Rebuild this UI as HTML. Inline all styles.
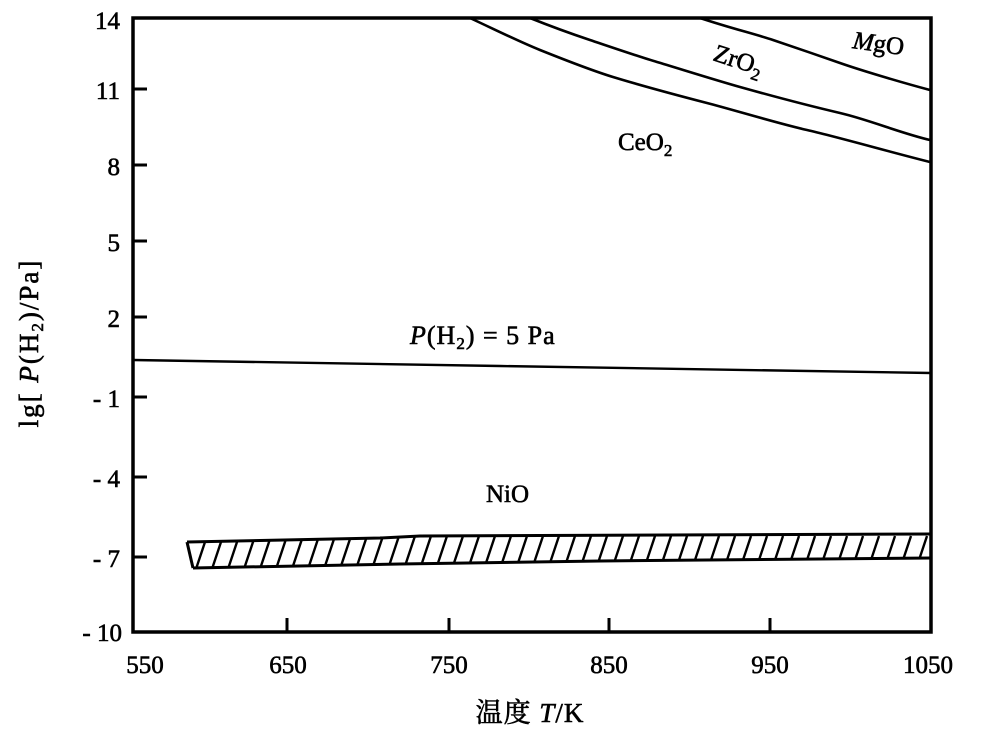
<!DOCTYPE html>
<html><head><meta charset="utf-8"><style>
body{margin:0;background:#fff;}
svg{display:block;}
text{font-family:"Liberation Serif","Noto Serif CJK SC",serif;fill:#000;stroke:#000;stroke-width:0.6;}
</style></head><body>
<svg width="1005" height="733" viewBox="0 0 1005 733">
<defs>
<clipPath id="band"><polygon points="187,542 380,538 420,536 931,534 931,558 600,561 400,564 193,568"/></clipPath>
</defs>
<g stroke="#000" fill="none" stroke-width="3">
<rect x="133" y="18" width="798" height="614" stroke-width="3.5"/>
<path d="M133,89h14M133,165h14M133,241h14M133,317h14M133,397h14M133,477h14M133,557h14"/>
<path d="M287,632v-14M449,632v-14M609,632v-14M770,632v-14"/>
<path stroke-width="2.6" d="M470,18 C500,32 520,42 540,50 S590,70 613,77 S680,96 707,103 S780,124 807,130 S890,152 930,162"/>
<path stroke-width="2.6" d="M530,18 C555,28 575,35 590,40 S640,57 657,62 S715,80 740,87 S810,106 840,113 S900,133 930,140"/>
<path stroke-width="2.6" d="M700,18 C730,28 755,34 773,40 S820,56 840,63 S900,82 930,90"/>
<path stroke-width="2.4" d="M133,360 L500,366 L931,373"/>
<path stroke-width="3" d="M187,542 L380,538 L420,536 L931,534 M193,568 L400,564 L600,561 L931,558 M187,542 L193,568"/>
<g clip-path="url(#band)" stroke-width="2.4">
<path d="M195,572l12,-36M211,572l12,-36M227,572l12,-36M243,572l12,-36M259,572l12,-36M275,572l12,-36M291,572l12,-36M307,572l12,-36M323,572l12,-36M339,572l12,-36M355,572l12,-36M371,572l12,-36M387,572l12,-36M403,572l12,-36M419,572l12,-36M435,572l12,-36M451,572l12,-36M467,572l12,-36M483,572l12,-36M499,572l12,-36M515,572l12,-36M531,572l12,-36M547,572l12,-36M563,572l12,-36M579,572l12,-36M595,572l12,-36M611,572l12,-36M627,572l12,-36M643,572l12,-36M659,572l12,-36M675,572l12,-36M691,572l12,-36M707,572l12,-36M723,572l12,-36M739,572l12,-36M755,572l12,-36M771,572l12,-36M787,572l12,-36M803,572l12,-36M819,572l12,-36M835,572l12,-36M851,572l12,-36M867,572l12,-36M883,572l12,-36M899,572l12,-36M915,572l12,-36"/>
</g>
</g>
<g font-size="25" text-anchor="end">
<text x="120" y="29">14</text>
<text x="120" y="99">11</text>
<text x="120" y="175">8</text>
<text x="120" y="251">5</text>
<text x="120" y="327">2</text>
<text x="120" y="407">- 1</text>
<text x="120" y="487">- 4</text>
<text x="120" y="567">- 7</text>
<text x="122" y="641">- 10</text>
</g>
<g font-size="25" text-anchor="middle">
<text x="145" y="673">550</text>
<text x="288" y="673">650</text>
<text x="449" y="673">750</text>
<text x="609" y="673">850</text>
<text x="770" y="673">950</text>
<text x="928" y="673">1050</text>
<text x="530" y="722" font-size="27" letter-spacing="1">温度 <tspan font-style="italic">T</tspan>/K</text>
</g>
<text transform="translate(38,343) rotate(-90)" font-size="27" text-anchor="middle" letter-spacing="2">lg[ <tspan font-style="italic">P</tspan>(H<tspan font-size="17" dy="5">2</tspan><tspan dy="-5">)/Pa]</tspan></text>
<text x="410" y="344" font-size="26" letter-spacing="1"><tspan font-style="italic">P</tspan>(H<tspan font-size="17" dy="5">2</tspan><tspan dy="-5">) = 5  Pa</tspan></text>
<text x="486" y="502" font-size="25">NiO</text>
<text x="618" y="150" font-size="25">CeO<tspan font-size="17" dy="6">2</tspan></text>
<text transform="translate(712,60) rotate(18)" font-size="25">ZrO<tspan font-size="17" dy="6">2</tspan></text>
<text transform="translate(852,48) rotate(8)" font-size="25"><tspan font-style="italic">M</tspan>gO</text>
</svg>
</body></html>
